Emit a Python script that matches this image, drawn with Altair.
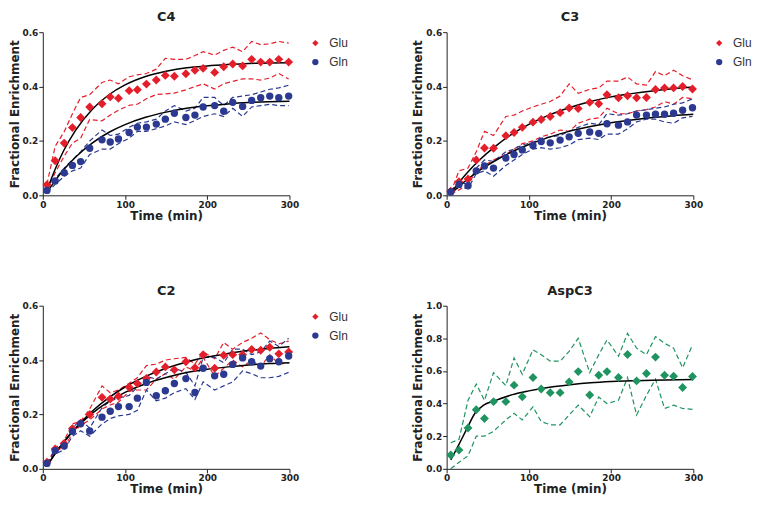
import altair as alt
import pandas as pd

# ---------------- data ----------------
TIME = [5, 15, 26, 36, 46, 57, 72, 82, 92, 105, 115, 126, 138, 149, 160,
        174, 185, 195, 209, 220, 231, 243, 254, 265, 276, 287, 299]
FIT_T = [5, 15, 25, 40, 60, 80, 100, 125, 150, 175, 200, 225, 250, 275, 300]
ASP_FIT_T = [5, 15, 25, 35, 45, 60, 80, 100, 125, 150, 175, 200, 250, 300]

# C4
C4_GLU = [0.039, 0.127, 0.192, 0.249, 0.286, 0.325, 0.337, 0.362, 0.357, 0.385, 0.388, 0.409, 0.424, 0.441,
          0.438, 0.447, 0.46, 0.467, 0.452, 0.473, 0.483, 0.476, 0.5, 0.49, 0.49, 0.5, 0.49]
C4_GLU_HI = [0.04, 0.18, 0.234, 0.3, 0.36, 0.37, 0.415, 0.424, 0.41, 0.436, 0.443, 0.448, 0.464, 0.504,
             0.5, 0.5, 0.514, 0.528, 0.516, 0.533, 0.545, 0.528, 0.566, 0.554, 0.557, 0.566, 0.56]
C4_GLU_LO = [0.017, 0.083, 0.144, 0.192, 0.21, 0.279, 0.274, 0.295, 0.313, 0.331, 0.335, 0.355, 0.371, 0.373,
             0.376, 0.388, 0.4, 0.41, 0.391, 0.41, 0.419, 0.428, 0.428, 0.424, 0.431, 0.448, 0.428]
C4_GLN = [0.018, 0.053, 0.083, 0.11, 0.124, 0.173, 0.204, 0.196, 0.207, 0.231, 0.251, 0.251, 0.262, 0.28,
          0.302, 0.286, 0.295, 0.325, 0.33, 0.309, 0.342, 0.327, 0.349, 0.359, 0.365, 0.359, 0.365]
C4_GLN_HI = [0.025, 0.06, 0.1, 0.13, 0.16, 0.2, 0.24, 0.22, 0.225, 0.25, 0.265, 0.27, 0.28, 0.31,
             0.33, 0.31, 0.32, 0.36, 0.36, 0.33, 0.36, 0.365, 0.37, 0.38, 0.39, 0.395, 0.405]
C4_GLN_LO = [0.01, 0.04, 0.07, 0.09, 0.1, 0.15, 0.17, 0.17, 0.19, 0.21, 0.235, 0.235, 0.245, 0.255,
             0.27, 0.26, 0.275, 0.29, 0.3, 0.29, 0.32, 0.29, 0.325, 0.33, 0.335, 0.33, 0.33]
C4_GLU_FIT = [0.018, 0.096, 0.162, 0.24, 0.316, 0.369, 0.406, 0.437, 0.456, 0.469, 0.476, 0.481, 0.485, 0.487, 0.488]
C4_GLN_FIT = [0.01, 0.054, 0.093, 0.141, 0.192, 0.231, 0.26, 0.287, 0.306, 0.32, 0.329, 0.336, 0.341, 0.344, 0.346]

# C3
C3_GLU = [0.015, 0.05, 0.06, 0.13, 0.174, 0.173, 0.219, 0.231, 0.25, 0.269, 0.279, 0.29, 0.304, 0.321,
          0.319, 0.342, 0.337, 0.37, 0.359, 0.366, 0.359, 0.36, 0.389, 0.395, 0.395, 0.4, 0.391]
C3_GLU_HI = [0.01, 0.09, 0.1, 0.16, 0.235, 0.22, 0.29, 0.295, 0.31, 0.325, 0.335, 0.345, 0.365, 0.41,
             0.375, 0.39, 0.395, 0.42, 0.42, 0.435, 0.41, 0.405, 0.455, 0.44, 0.46, 0.44, 0.425]
C3_GLU_LO = [0.005, 0.02, 0.04, 0.09, 0.11, 0.13, 0.15, 0.17, 0.19, 0.2, 0.215, 0.225, 0.24, 0.235,
             0.265, 0.28, 0.285, 0.32, 0.3, 0.3, 0.31, 0.315, 0.325, 0.345, 0.335, 0.36, 0.355]
C3_GLN = [0.012, 0.04, 0.035, 0.09, 0.108, 0.1, 0.137, 0.15, 0.167, 0.183, 0.198, 0.193, 0.203, 0.215,
          0.228, 0.233, 0.228, 0.263, 0.258, 0.27, 0.295, 0.295, 0.298, 0.298, 0.302, 0.313, 0.322]
C3_GLN_HI = [0.015, 0.05, 0.04, 0.1, 0.13, 0.125, 0.16, 0.17, 0.185, 0.195, 0.21, 0.215, 0.22, 0.235,
             0.25, 0.265, 0.26, 0.3, 0.295, 0.3, 0.31, 0.315, 0.32, 0.325, 0.335, 0.34, 0.355]
C3_GLN_LO = [0.005, 0.03, 0.025, 0.08, 0.09, 0.07, 0.11, 0.13, 0.15, 0.17, 0.175, 0.17, 0.175, 0.185,
             0.205, 0.21, 0.205, 0.225, 0.225, 0.245, 0.27, 0.28, 0.28, 0.27, 0.265, 0.285, 0.29]
C3_GLU_FIT = [0.008, 0.047, 0.083, 0.13, 0.182, 0.226, 0.261, 0.296, 0.323, 0.345, 0.362, 0.374, 0.384, 0.392, 0.398]
C3_GLN_FIT = [0.006, 0.033, 0.058, 0.092, 0.129, 0.161, 0.187, 0.214, 0.236, 0.253, 0.267, 0.277, 0.286, 0.293, 0.298]

# C2
C2_GLU = [0.024, 0.073, 0.093, 0.148, 0.168, 0.2, 0.263, 0.257, 0.267, 0.3, 0.314, 0.332, 0.356, 0.375,
          0.364, 0.394, 0.372, 0.42, 0.37, 0.418, 0.42, 0.42, 0.439, 0.436, 0.447, 0.423, 0.43]
C2_GLU_HI = [0.02, 0.075, 0.105, 0.165, 0.175, 0.22, 0.305, 0.28, 0.29, 0.315, 0.335, 0.38, 0.385, 0.4,
             0.405, 0.41, 0.385, 0.43, 0.405, 0.465, 0.44, 0.465, 0.48, 0.5, 0.475, 0.46, 0.47]
C2_GLU_LO = [0.02, 0.065, 0.08, 0.13, 0.16, 0.18, 0.22, 0.235, 0.245, 0.285, 0.29, 0.29, 0.33, 0.35,
             0.33, 0.375, 0.36, 0.41, 0.34, 0.37, 0.4, 0.375, 0.4, 0.375, 0.42, 0.385, 0.39]
C2_GLN = [0.02, 0.067, 0.084, 0.138, 0.166, 0.139, 0.19, 0.212, 0.229, 0.229, 0.26, 0.318, 0.269, 0.287,
          0.314, 0.332, 0.281, 0.37, 0.342, 0.348, 0.384, 0.408, 0.394, 0.378, 0.405, 0.394, 0.415]
C2_GLN_HI = [0.02, 0.07, 0.09, 0.15, 0.18, 0.15, 0.225, 0.25, 0.26, 0.27, 0.3, 0.34, 0.33, 0.35,
             0.37, 0.355, 0.305, 0.41, 0.41, 0.39, 0.44, 0.44, 0.42, 0.43, 0.47, 0.45, 0.48]
C2_GLN_LO = [0.015, 0.055, 0.07, 0.12, 0.14, 0.12, 0.165, 0.185, 0.195, 0.2, 0.215, 0.29, 0.25, 0.26,
             0.28, 0.295, 0.255, 0.32, 0.29, 0.305, 0.32, 0.36, 0.35, 0.335, 0.335, 0.34, 0.355]
C2_GLU_FIT = [0.01, 0.056, 0.097, 0.151, 0.212, 0.261, 0.301, 0.34, 0.37, 0.393, 0.411, 0.424, 0.435, 0.443, 0.449]
C2_GLN_FIT = [0.01, 0.056, 0.096, 0.148, 0.204, 0.247, 0.281, 0.313, 0.336, 0.354, 0.366, 0.375, 0.382, 0.387, 0.39]

# AspC3
ASP = [0.085, 0.115, 0.25, 0.362, 0.309, 0.412, 0.412, 0.513, 0.442, 0.56, 0.489, 0.467, 0.467, 0.533,
       0.596, 0.453, 0.574, 0.596, 0.56, 0.701, 0.539, 0.584, 0.685, 0.574, 0.568, 0.499, 0.566]
ASP_HI = [0.16, 0.18, 0.42, 0.52, 0.42, 0.59, 0.51, 0.68, 0.58, 0.73, 0.7, 0.66, 0.66, 0.72,
          0.8, 0.59, 0.7, 0.79, 0.69, 0.83, 0.74, 0.7, 0.81, 0.77, 0.74, 0.62, 0.76]
ASP_LO = [0.0, 0.04, 0.08, 0.2, 0.2, 0.23, 0.3, 0.34, 0.3, 0.38, 0.29, 0.27, 0.27, 0.33,
          0.39, 0.32, 0.44, 0.4, 0.42, 0.56, 0.33, 0.45, 0.55, 0.37, 0.39, 0.37, 0.365]
ASP_FIT = [0.055, 0.15, 0.25, 0.345, 0.39, 0.42, 0.455, 0.478, 0.5, 0.515, 0.527, 0.535, 0.543, 0.548]

# ---------------- styling ----------------
RED = "#e41f2b"
BLUE = "#2b3990"
GREEN = "#1f9460"
AXFONT = "DejaVu Sans"
LEGFONT = "Liberation Sans"
TXT = "#222222"
W, H = 248, 164


def panel(title, series, ymax, yticks, show_legend):
    names = [s["name"] for s in series]
    colors = [s["color"] for s in series]
    shapes = [s["shape"] for s in series]

    x = alt.X("t:Q", scale=alt.Scale(domain=[0, 300], nice=False),
              axis=alt.Axis(values=[0, 100, 200, 300], title="Time (min)"))
    y = alt.Y("v:Q", scale=alt.Scale(domain=[0, ymax], nice=False),
              axis=alt.Axis(values=yticks, format=".1f", title="Fractional Enrichment"))

    if show_legend:
        leg = alt.Legend(orient="none", legendX=268, legendY=5, title=None,
                         labelFont=LEGFONT, labelFontSize=12, labelColor="#333333",
                         labelOffset=8, rowPadding=7, symbolSize=40,
                         symbolStrokeWidth=0, padding=0)
    else:
        leg = None

    layers = []
    # dashed envelopes, one layer per series (constant colour)
    for s in series:
        band = []
        for bound, arr in (("hi", s["hi"]), ("lo", s["lo"])):
            for t, v in zip(TIME, arr):
                band.append({"t": t, "v": v, "k": bound})
        layers.append(
            alt.Chart(pd.DataFrame(band)).mark_line(
                color=s["color"], strokeWidth=1.2, strokeDash=[5, 3]
            ).encode(x=x, y=y, detail="k:N")
        )
    # fitted curves
    fit = []
    for s in series:
        for t, v in zip(s["fit_t"], s["fit"]):
            fit.append({"t": t, "v": v, "s": s["name"]})
    layers.append(
        alt.Chart(pd.DataFrame(fit)).mark_line(
            color="black", strokeWidth=1.5, interpolate="monotone"
        ).encode(x=x, y=y, detail="s:N")
    )
    # mean points
    for s in series:
        pts = pd.DataFrame({"t": TIME, "v": s["mean"], "s": s["name"]})
        layers.append(
            alt.Chart(pts).mark_point(
                filled=True, opacity=1, strokeWidth=0, size=s["size"]
            ).encode(
                x=x, y=y,
                color=alt.Color("s:N", scale=alt.Scale(domain=names, range=colors), legend=leg),
                shape=alt.Shape("s:N", scale=alt.Scale(domain=names, range=shapes), legend=leg),
            )
        )
    return alt.layer(*layers).properties(
        width=W, height=H, title=alt.TitleParams(title)
    )


def glu(mean, hi, lo, fit):
    return {"name": "Glu", "mean": mean, "hi": hi, "lo": lo, "fit_t": FIT_T, "fit": fit,
            "color": RED, "shape": "diamond", "size": 80}


def gln(mean, hi, lo, fit):
    return {"name": "Gln", "mean": mean, "hi": hi, "lo": lo, "fit_t": FIT_T, "fit": fit,
            "color": BLUE, "shape": "circle", "size": 55}


Y6 = [0, 0.2, 0.4, 0.6]
Y10 = [0, 0.2, 0.4, 0.6, 0.8, 1.0]

p1 = panel("C4", [glu(C4_GLU, C4_GLU_HI, C4_GLU_LO, C4_GLU_FIT),
                  gln(C4_GLN, C4_GLN_HI, C4_GLN_LO, C4_GLN_FIT)], 0.6, Y6, True)
p2 = panel("C3", [glu(C3_GLU, C3_GLU_HI, C3_GLU_LO, C3_GLU_FIT),
                  gln(C3_GLN, C3_GLN_HI, C3_GLN_LO, C3_GLN_FIT)], 0.6, Y6, True)
p3 = panel("C2", [glu(C2_GLU, C2_GLU_HI, C2_GLU_LO, C2_GLU_FIT),
                  gln(C2_GLN, C2_GLN_HI, C2_GLN_LO, C2_GLN_FIT)], 0.6, Y6, True)
p4 = panel("AspC3", [{"name": "Asp", "mean": ASP, "hi": ASP_HI, "lo": ASP_LO,
                      "fit_t": ASP_FIT_T, "fit": ASP_FIT, "color": GREEN,
                      "shape": "diamond", "size": 80}], 1.0, Y10, False)

RES = dict(color="independent", shape="independent", x="independent", y="independent")

chart = alt.concat(
    p1, p2, p3, p4, columns=2, spacing={"row": 111, "column": 158}, bounds="flush"
).resolve_scale(**RES).properties(
    padding={"left": 0, "top": 2, "right": 0, "bottom": 0}
).configure_view(stroke=None).configure_axis(
    grid=False, domainColor=TXT, domainWidth=1, tickColor=TXT, tickSize=4, tickWidth=1,
    labelFont=AXFONT, labelFontWeight="bold", labelFontSize=9, labelColor=TXT,
    labelPadding=1, labelFlush=False,
    titleFont=AXFONT, titleFontWeight="bold", titleFontSize=12, titleColor=TXT, titlePadding=1,
).configure_title(
    font=AXFONT, fontSize=13, fontWeight="bold", color=TXT, offset=4, anchor="middle"
)

chart.save("out.html", embed_options={"renderer": "svg", "actions": False})
